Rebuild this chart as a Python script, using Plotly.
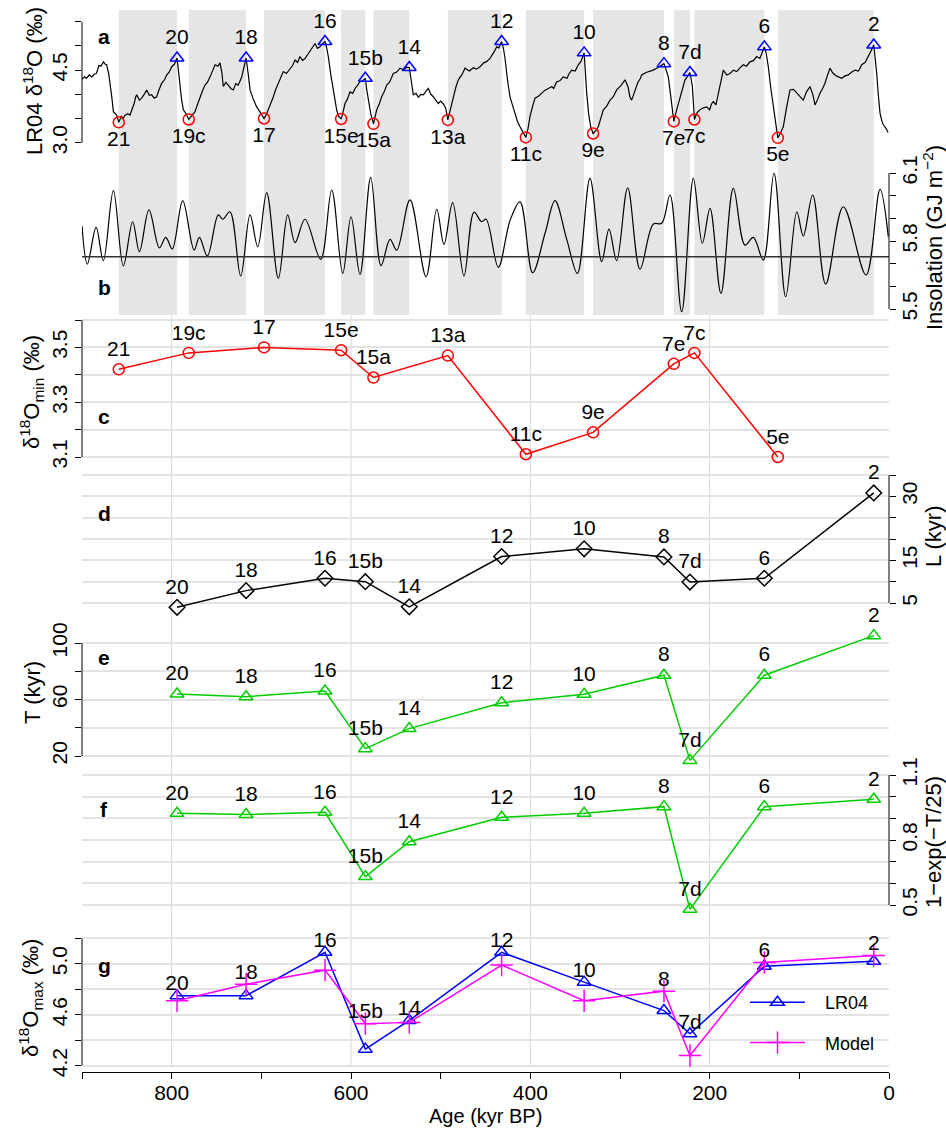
import plotly.graph_objects as go

# ---------------- data ----------------
max_labels = ["20", "18", "16", "15b", "14", "12", "10", "8", "7d", "6", "2"]
max_ages = [794, 717, 629, 584, 535, 432, 340, 251, 222, 139, 17]
min_labels = ["21", "19c", "17", "15e", "15a", "13a", "11c", "9e", "7e", "7c", "5e"]
min_ages = [859, 781, 697, 611, 575, 492, 405, 330, 240, 217, 124]

d18o_min = [3.42, 3.48, 3.50, 3.49, 3.39, 3.47, 3.11, 3.19, 3.44, 3.48, 3.10]
L_kyr = [4.0, 7.9, 10.8, 10.0, 4.1, 15.9, 17.7, 15.8, 9.9, 10.8, 30.8]
T_kyr = [63.9, 62.0, 66.0, 25.2, 39.4, 57.7, 63.7, 77.2, 16.9, 77.2, 105.2]
f_vals = [0.923, 0.918, 0.928, 0.631, 0.792, 0.905, 0.923, 0.954, 0.48, 0.954, 0.988]
lr04_max = [4.75, 4.75, 5.09, 4.33, 4.555, 5.09, 4.856, 4.633, 4.45, 4.98, 5.02]
model_max = [4.71, 4.84, 4.95, 4.53, 4.54, 4.99, 4.71, 4.785, 4.28, 5.01, 5.065]

lr04_age = [900, 897, 895, 892, 889, 886, 884, 881, 879, 876, 874, 872.5, 870, 868.7, 866.5, 865,
            863, 861.3, 859, 856, 854, 852, 849, 846.4, 844, 842, 840, 839, 836, 833.4, 830,
            827.8, 825, 822.3, 819.5, 816.7, 814, 811.1, 808, 805.5, 803, 801, 799.9, 797, 794,
            792.5, 790.7, 789, 787, 784, 781, 777.5, 774, 771, 768.4, 765.5, 762.8, 760, 757.2,
            754, 751.6, 748.5, 746.1, 744, 742.4, 739.5, 736.8, 734, 731.2, 728.5, 725.7, 722,
            719.5, 717, 714.5, 712.6, 709, 705.2, 701, 697, 694.5, 692.2, 689.5, 686.6, 684, 681,
            678, 675.5, 672, 668, 665, 662.4, 659.5, 656.9, 654, 651.3, 648.5, 645.7, 643, 640.1,
            637.5, 634.6, 632, 629, 627, 625.3, 622.5, 619.7, 618, 616, 614, 611, 609, 606.7,
            604, 601.1, 598, 595.5, 593, 590, 587, 584, 582.5, 580.7, 578, 575, 573, 571.3,
            568.5, 565.8, 563, 560.2, 557, 555, 552.8, 549, 545.3, 541, 538, 535, 533, 530.5,
            527.5, 524.9, 522, 519.3, 516.5, 513.8, 511, 508.2, 505.5, 502.6, 500, 497, 494.5,
            492, 489, 485.8, 483, 480.3, 476.5, 472.8, 468, 463.6, 460, 456.1, 452, 448.5, 445,
            441, 437.5, 435, 432, 430, 428.2, 425.5, 422.7, 420, 417.1, 414.5, 411.5, 408, 405,
            402.5, 400.4, 397.5, 394.8, 391, 387.3, 384, 379.9, 376, 374, 370.6, 367, 363.2, 359,
            357, 353.9, 350, 346.5, 343.5, 340, 338.5, 337.1, 335, 332.7, 330, 327, 324.2, 321.5,
            318.6, 315, 311.1, 307.5, 303.7, 299, 296.5, 294.4, 291, 289, 287, 285, 283.3, 280,
            277.5, 275.8, 271, 266.5, 263, 259.1, 255.5, 251, 248.5, 246.1, 243, 240, 236.5,
            233.1, 230, 227.5, 225, 222, 220.5, 219.3, 217, 214, 210.8, 207, 203.3, 200, 198,
            195.9, 193, 190.4, 187.5, 184.8, 181, 177.3, 173.5, 169.8, 166, 162.5, 159, 155, 151,
            147.6, 144, 141.5, 139, 137, 134.6, 132, 129, 126.5, 124, 121, 117.9, 114, 110.4,
            106.5, 102.9, 99, 95.6, 92, 88.1, 85, 82.5, 79.5, 77, 74, 71.4, 68.5, 65.8, 63, 60.2,
            56.5, 52.8, 49, 45.4, 41.5, 37.9, 34, 30.4, 26.5, 23, 20, 17, 15.5, 13.7, 12, 10, 8,
            6.4, 3.5, 1]
lr04_val = [4.31, 4.36, 4.33, 4.40, 4.36, 4.42, 4.43, 4.60, 4.58, 4.67, 4.62, 4.61, 4.40, 4.16, 3.90, 3.64,
            3.60, 3.57, 3.42, 3.55, 3.50, 3.57, 3.60, 3.57, 3.70, 3.80, 3.95, 3.99, 3.88, 3.92, 4.02,
            4.09, 3.98, 3.99, 3.92, 3.95, 4.10, 4.23, 4.30, 4.40, 4.45, 4.52, 4.57, 4.62, 4.75,
            4.50, 4.16, 3.90, 3.68, 3.60, 3.48, 3.55, 3.64, 3.80, 3.95, 4.08, 4.19, 4.25, 4.36,
            4.50, 4.61, 4.58, 4.65, 4.45, 4.16, 4.25, 4.19, 4.12, 4.09, 4.22, 4.19, 4.35,
            4.55, 4.75, 4.40, 4.09, 3.90, 3.74, 3.62, 3.50, 3.58, 3.68, 3.82, 3.95, 4.10, 4.23,
            4.35, 4.47, 4.43, 4.54, 4.60, 4.71, 4.66, 4.78, 4.70, 4.74, 4.82, 4.88, 4.95, 5.05,
            4.95, 4.98, 5.04, 5.09, 4.95, 4.78, 4.40, 4.09, 3.85, 3.68, 3.55, 3.49, 3.62, 3.81,
            3.90, 4.05, 4.02, 4.12, 4.18, 4.26, 4.28, 4.33, 4.10, 3.88, 3.60, 3.39, 3.52, 3.68,
            3.80, 3.95, 4.05, 4.19, 4.25, 4.35, 4.43, 4.46, 4.54, 4.50, 4.56, 4.555, 4.25, 3.99,
            4.02, 3.94, 4.00, 3.99, 4.06, 4.12, 4.00, 3.95, 3.88, 3.81, 3.86, 3.80, 3.72,
            3.47, 3.70, 3.95, 4.15, 4.30, 4.40, 4.54, 4.48, 4.55, 4.52, 4.57, 4.65, 4.68, 4.74,
            4.86, 4.98, 4.96, 5.09, 4.95, 4.74, 4.30, 3.95, 3.78, 3.61, 3.45, 3.33, 3.20, 3.11,
            3.30, 3.54, 3.75, 3.92, 3.96, 4.02, 4.08, 4.12, 4.16, 4.12, 4.26, 4.28, 4.36, 4.33,
            4.42, 4.50, 4.48, 4.61, 4.68, 4.856, 4.40, 4.02, 3.60, 3.33, 3.19, 3.25, 3.33, 3.50,
            3.68, 3.75, 3.88, 3.95, 4.09, 4.18, 4.25, 4.30, 4.15, 3.95, 3.88, 3.98, 4.09, 4.25,
            4.32, 4.40, 4.45, 4.47, 4.50, 4.54, 4.58, 4.633, 4.50, 4.36, 3.90, 3.44, 3.70,
            3.95, 4.15, 4.30, 4.36, 4.45, 4.30, 4.16, 3.48, 3.62, 3.68, 3.72, 3.74, 3.68, 3.80,
            3.85, 3.78, 4.02, 4.30, 4.50, 4.40, 4.43, 4.50, 4.47, 4.55, 4.61, 4.58, 4.67, 4.70,
            4.78, 4.74, 4.85, 4.98, 4.85, 4.57, 4.15, 3.74, 3.40, 3.10, 3.20, 3.33, 3.75, 4.09,
            4.10, 4.02, 3.95, 3.88, 4.05, 4.16, 4.00, 3.78, 3.90, 4.02, 4.12, 4.23, 4.40, 4.54, 4.45, 4.40,
            4.36, 4.33, 4.38, 4.40, 4.46, 4.50, 4.48, 4.61, 4.66, 4.81, 4.90, 5.02, 4.80, 4.43, 4.00, 3.61, 3.45,
            3.37, 3.30, 3.21]

insol_age = [900, 894, 884.3, 876.2, 865, 853.9, 843.5, 836, 825.3, 813.7, 806.6, 799.3,
             787.7, 775, 769.1, 760.2, 748, 743, 735, 723, 712.6, 704, 694, 681, 670.6,
             662.4, 651.3, 633.8, 621.5, 609.2, 600, 590, 578, 566.5, 556.5, 549, 534.2,
             516.3, 504.4, 496.3, 486.6, 474, 462.8, 454.3, 449.3, 435.7, 422.7, 411.5,
             397.4, 383.6, 372.5, 359.4, 347.5, 333.5, 320.4, 312.3, 303.7, 291.4, 277.7,
             262.8, 253.5, 244.2, 231.2, 218.2, 208.2, 199.6, 187.4, 173.6, 160.6, 151.3,
             140.2, 128.2, 115.2, 102.8, 95.6, 85.1, 70.6, 51, 25.6, 10, 0.8]
insol_val = [5.866, 5.698, 5.860, 5.713, 6.022, 5.690, 5.885, 5.753, 5.937, 5.770, 5.816, 5.765,
             5.978, 5.760, 5.816, 5.734, 5.915, 5.896, 5.929, 5.646, 5.915, 5.775, 6.013, 5.635, 5.915,
             5.793, 5.896, 5.719, 6.025, 5.657, 5.907, 5.653, 6.081, 5.691, 5.807, 5.760, 5.981,
             5.643, 5.940, 5.785, 5.969, 5.646, 5.927, 5.885, 5.896, 5.684, 5.890, 5.973,
             5.660, 5.834, 5.978, 5.807, 5.657, 6.076, 5.709, 5.852, 5.713, 6.035, 5.676,
             5.875, 5.878, 6.003, 5.488, 6.076, 5.790, 5.944, 5.569, 6.032, 5.782, 5.816,
             5.716, 6.099, 5.554, 5.929, 5.822, 6.003, 5.610, 5.951, 5.650, 6.028, 5.819]
insol_threshold = 5.73

x_ticks = [900, 800, 700, 600, 500, 400, 300, 200, 100, 0]
x_labeled = [800, 600, 400, 200, 0]
x_grid = [800, 600, 400, 200]

# ---------------- layout helpers ----------------
FONT = "Liberation Sans, Arial, Helvetica, sans-serif"
W, H = 946, 1129
PL, PR = 82, 889
PT, PB = 10, 1072
PH = PB - PT
GREEN = "#00CD00"
GRID = "#e3e3e3"


def dom(top, bot):
    return [(PB - bot) / PH, (PB - top) / PH]


def rng(v1, p1, v2, p2, top, bot):
    k = (v2 - v1) / (p2 - p1)
    return [v1 + (bot - p1) * k, v1 + (top - p1) * k]


def yp(p):
    return (PB - p) / PH


def xp(p):
    return (p - PL) / (PR - PL)


panels = [
    # name, top, bot, calibration, ticks, labeled ticks, side, grid
    ("y", 10, 160, (3.0, 142.7, 5.5, 21.7), [3.0, 3.5, 4.0, 4.5, 5.0, 5.5], [3.0, 4.5], "left", False),
    ("y2", 160, 315, (5.5, 309, 6.1, 173), [5.5, 5.6, 5.7, 5.8, 5.9, 6.0, 6.1], [5.5, 5.8, 6.1], "right", False),
    ("y3", 315, 462, (3.1, 457, 3.6, 320), [3.1, 3.2, 3.3, 3.4, 3.5, 3.6], [3.1, 3.3, 3.5], "left", True),
    ("y4", 462, 610, (5, 603, 35, 475), [5, 10, 15, 20, 25, 30, 35], [5, 15, 30], "right", True),
    ("y5", 610, 762, (20, 756, 100, 643), [20, 40, 60, 80, 100], [20, 60, 100], "left", True),
    ("y6", 762, 912, (0.5, 905, 1.1, 775), [0.5, 0.6, 0.7, 0.8, 0.9, 1.0, 1.1], [0.5, 0.8, 1.1], "right", True),
    ("y7", 912, 1072, (4.2, 1065.7, 5.2, 938.3), [4.2, 4.4, 4.6, 4.8, 5.0, 5.2], [4.2, 4.6, 5.0], "left", True),
]
tick_fmt = {"y": "%.1f", "y2": "%.1f", "y3": "%.1f", "y4": "%d", "y5": "%d", "y6": "%.1f", "y7": "%.1f"}

fig = go.Figure()
tfont = dict(family=FONT, size=21, color="black")

# panel a
fig.add_trace(go.Scatter(x=lr04_age, y=lr04_val, mode="lines", line=dict(color="black", width=1.2),
                         xaxis="x", yaxis="y", showlegend=False, hoverinfo="skip"))
fig.add_trace(go.Scatter(x=max_ages, y=lr04_max, mode="markers+text", text=max_labels,
                         textposition="top center", textfont=tfont, cliponaxis=False,
                         marker=dict(symbol="triangle-up-open", size=12, color="blue", line=dict(width=1.5)),
                         xaxis="x", yaxis="y", showlegend=False))
fig.add_trace(go.Scatter(x=min_ages, y=d18o_min, mode="markers+text", text=min_labels,
                         textposition="bottom center", textfont=tfont, cliponaxis=False,
                         marker=dict(symbol="circle-open", size=11, color="red", line=dict(width=1.5)),
                         xaxis="x", yaxis="y", showlegend=False))
# panel b
fig.add_trace(go.Scatter(x=insol_age, y=insol_val, mode="lines",
                         line=dict(color="black", width=1.2, shape="spline", smoothing=1.0),
                         xaxis="x", yaxis="y2", showlegend=False, hoverinfo="skip"))
# panel c
fig.add_trace(go.Scatter(x=min_ages, y=d18o_min, mode="lines+markers+text", text=min_labels,
                         textposition="top center", textfont=tfont, cliponaxis=False,
                         line=dict(color="red", width=1.5),
                         marker=dict(symbol="circle-open", size=11, color="red", line=dict(width=1.5)),
                         xaxis="x", yaxis="y3", showlegend=False))
# panel d
fig.add_trace(go.Scatter(x=max_ages, y=L_kyr, mode="lines+markers+text", text=max_labels,
                         textposition="top center", textfont=tfont, cliponaxis=False,
                         line=dict(color="black", width=1.5),
                         marker=dict(symbol="diamond-open", size=12, color="black", line=dict(width=1.5)),
                         xaxis="x", yaxis="y4", showlegend=False))
# panel e
fig.add_trace(go.Scatter(x=max_ages, y=T_kyr, mode="lines+markers+text", text=max_labels,
                         textposition="top center", textfont=tfont, cliponaxis=False,
                         line=dict(color=GREEN, width=1.5),
                         marker=dict(symbol="triangle-up-open", size=12, color=GREEN, line=dict(width=1.5)),
                         xaxis="x", yaxis="y5", showlegend=False))
# panel f
fig.add_trace(go.Scatter(x=max_ages, y=f_vals, mode="lines+markers+text", text=max_labels,
                         textposition="top center", textfont=tfont, cliponaxis=False,
                         line=dict(color=GREEN, width=1.5),
                         marker=dict(symbol="triangle-up-open", size=12, color=GREEN, line=dict(width=1.5)),
                         xaxis="x", yaxis="y6", showlegend=False))
# panel g
fig.add_trace(go.Scatter(x=max_ages, y=lr04_max, mode="lines+markers", name="\u00a0\u00a0\u00a0LR04",
                         line=dict(color="blue", width=1.5), cliponaxis=False,
                         marker=dict(symbol="triangle-up-open", size=12, color="blue", line=dict(width=1.5)),
                         xaxis="x", yaxis="y7", legendgroup="a"))
fig.add_trace(go.Scatter(x=max_ages, y=model_max, mode="lines+markers", name="\u00a0\u00a0\u00a0Model",
                         line=dict(color="magenta", width=1.5), cliponaxis=False,
                         marker=dict(symbol="cross-thin-open", size=16, color="magenta", line=dict(width=1.5)),
                         xaxis="x", yaxis="y7", legendgroup="b"))
g_label_y = [max(a, b) for a, b in zip(lr04_max, model_max)]
fig.add_trace(go.Scatter(x=max_ages, y=g_label_y, mode="text", text=max_labels,
                         textposition="top center", textfont=tfont, cliponaxis=False,
                         xaxis="x", yaxis="y7", showlegend=False, hoverinfo="skip"))

shapes = []
# gray bands (from each minimum to the following maximum)
for a0, a1 in zip(min_ages, max_ages):
    shapes.append(dict(type="rect", xref="x", yref="paper", x0=a0, x1=a1, y0=yp(315), y1=yp(10),
                       fillcolor="#e5e5e5", line=dict(width=0), layer="below"))
# vertical grid lines for panels c-g
for gx in x_grid:
    shapes.append(dict(type="line", xref="x", yref="paper", x0=gx, x1=gx, y0=yp(1066), y1=yp(315),
                       line=dict(color="#d6d6d6", width=1), layer="below"))
# insolation threshold
shapes.append(dict(type="line", xref="paper", yref="y2", x0=0, x1=1, y0=insol_threshold, y1=insol_threshold,
                   line=dict(color="#333333", width=1.5)))

layout = dict(
    template="none",
    width=W, height=H, margin=dict(l=PL, r=W - PR, t=PT, b=H - PB, pad=0),
    paper_bgcolor="white", plot_bgcolor="rgba(0,0,0,0)",
    font=dict(family=FONT, size=21, color="black"),
    xaxis=dict(range=[900, 0], domain=[0, 1], anchor="y7", automargin=False,
               showline=True, linecolor="black", linewidth=1,
               ticks="outside", ticklen=6, tickcolor="black", tickwidth=1,
               tickvals=x_labeled, ticktext=[str(t) for t in x_labeled], ticklabelstandoff=-4,
               minor=dict(tickvals=[t for t in x_ticks if t not in x_labeled], ticks="outside",
                          ticklen=6, tickcolor="black", tickwidth=1, showgrid=False),
               tickfont=dict(size=21), showgrid=False, zeroline=False),
    legend=dict(x=xp(745), y=yp(984), xanchor="left", yanchor="top", bgcolor="rgba(0,0,0,0)",
                font=dict(size=18), itemwidth=55, tracegroupgap=14),
)

for name, top, bot, cal, ticks, labeled, side, grid in panels:
    key = "yaxis" if name == "y" else "yaxis" + name[1:]
    unl = [t for t in ticks if t not in labeled]
    layout[key] = dict(domain=dom(top, bot), range=rng(*cal, top, bot), anchor="x", side=side,
                       automargin=False, showline=False, zeroline=False,
                       ticks="outside", ticklen=6, tickcolor="black", tickwidth=1,
                       tickvals=labeled, ticktext=[tick_fmt[name] % t for t in labeled],
                       tickangle=-90, tickfont=dict(size=21),
                       ticklabelstandoff=(-4 if side == "right" else 0),
                       showgrid=grid, gridcolor=GRID, gridwidth=2,
                       minor=dict(tickvals=unl, ticks="outside", ticklen=6, tickcolor="black", tickwidth=1,
                                  showgrid=grid, gridcolor=GRID, gridwidth=2))
    shapes.append(dict(type="line", xref="paper", yref=name, x0=0 if side == "left" else 1,
                       x1=0 if side == "left" else 1, y0=ticks[0], y1=ticks[-1],
                       line=dict(color="black", width=1)))

layout["shapes"] = shapes

ann = []
letters = [("a", 36), ("b", 288), ("c", 416), ("d", 513), ("e", 658), ("f", 809), ("g", 965)]
for t, py in letters:
    ann.append(dict(text="<b>%s</b>" % t, x=xp(104), y=yp(py), xref="paper", yref="paper",
                    xanchor="center", yanchor="middle", showarrow=False, font=dict(size=21)))
titles = [
    ("LR04 δ<sup>18</sup>O (‰)", 33, 81),
    ("Insolation (GJ m<sup>−2</sup>)", 933, 238),
    ("δ<sup>18</sup>O<sub>min</sub> (‰)", 31, 392),
    ("L (kyr)", 933, 536),
    ("T (kyr)", 33, 693),
    ("1−exp(−T/25)", 933, 842),
    ("δ<sup>18</sup>O<sub>max</sub> (‰)", 31, 998),
]
for t, px, py in titles:
    ann.append(dict(text=t, x=xp(px), y=yp(py), xref="paper", yref="paper", showarrow=False,
                    xanchor="center", yanchor="middle", textangle=-90, font=dict(size=22)))
ann.append(dict(text="Age (kyr BP)", x=0.5, y=yp(1116), xref="paper", yref="paper", showarrow=False,
                xanchor="center", yanchor="middle", font=dict(size=20)))
layout["annotations"] = ann

fig.update_layout(**layout)
fig.write_html("out.html", config={"displayModeBar": False},
               post_script="document.body.style.margin='0';document.body.style.overflow='hidden';")
